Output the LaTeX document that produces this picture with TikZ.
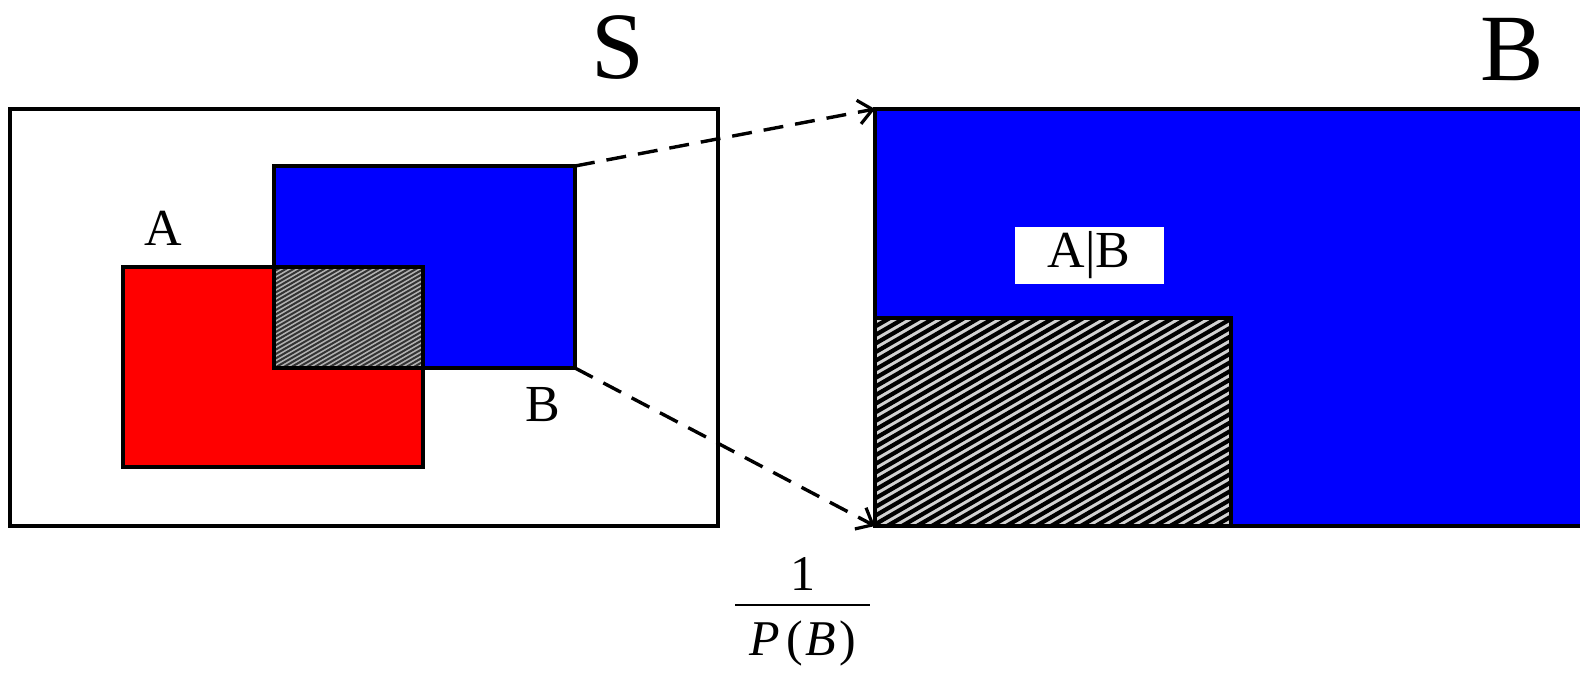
\documentclass[tikz,border=0pt]{standalone}
\usepackage{fontspec}
\setmainfont{Liberation Serif}
\usetikzlibrary{arrows.meta}
\begin{document}
\begin{tikzpicture}[x=1pt,y=-1pt,
  box/.style={draw=black,line width=3.6pt,inner sep=0pt,outer sep=0pt,anchor=north west},
  lab/.style={font=\fontsize{52}{60}\selectfont,inner sep=0pt},
  biglab/.style={font=\fontsize{95}{110}\selectfont,inner sep=0pt},
  fraclab/.style={font=\fontsize{50}{58}\selectfont,inner sep=0pt},
  zoomarrow/.style={line width=3.4pt,dash pattern=on 20pt off 12pt,-{Straight Barb[length=14pt,width=24pt,line width=3.2pt]}},
  hatchline/.style={line width=4.2pt,black}]
\useasboundingbox (0,0) rectangle (1580,681);
% left universe S
\node[box,fill=white,minimum width=708pt,minimum height=417pt] (S) at (10,109) {};
\node[box,fill=red,minimum width=300pt,minimum height=200pt] (A) at (123,267) {};
\node[box,fill=blue,minimum width=301pt,minimum height=202pt] (Bs) at (274,166) {};
% small hatched overlap
\begin{scope}
  \clip (274,267) rectangle (423,368);
  \fill[gray!60] (274,267) rectangle (423,368);
  \foreach \i in {0,...,44} \draw[line width=2pt,black!80] (274,267+\i*4.4) -- ++(160,-92);
\end{scope}
\node[box,minimum width=149pt,minimum height=101pt] (AB) at (274,267) {};
% right: B enlarged
\node[box,fill=blue,minimum width=730pt,minimum height=417pt] (Bb) at (875,109) {};
\begin{scope}
  \clip (875,318) rectangle (1231,526);
  \fill[gray!35] (875,318) rectangle (1231,526);
  \foreach \i in {0,...,48} \draw[hatchline] (875,318+\i*8.6) -- ++(400,-231);
\end{scope}
\node[box,minimum width=356pt,minimum height=208pt] (ABb) at (875,318) {};
\node[fill=white,inner sep=0pt,minimum width=149pt,minimum height=57pt,lab] (AgB) at (1089,255.5) {A|B};
% labels
\node[biglab] (Slab) at (618,48) {S};
\node[biglab] (Blab) at (1512,50) {B};
\node[lab] (Alab) at (163,228) {A};
\node[lab] (Bslab) at (543,405) {B};
% fraction 1/P(B)
\node[fraclab] (num) at (803,574) {1};
\node[fraclab] (den) at (803,643) {\textit{P}\kern6pt(\kern2pt\textit{B}\kern4pt)};
\coordinate (barL) at (735,605);
\coordinate (barR) at (870,605);
\draw[line width=2.4pt] (barL) -- (barR);
% zoom arrows
\draw[zoomarrow] (Bs.north east) -- (Bb.north west);
\draw[zoomarrow] (Bs.south east) -- (Bb.south west);
\end{tikzpicture}
\end{document}
